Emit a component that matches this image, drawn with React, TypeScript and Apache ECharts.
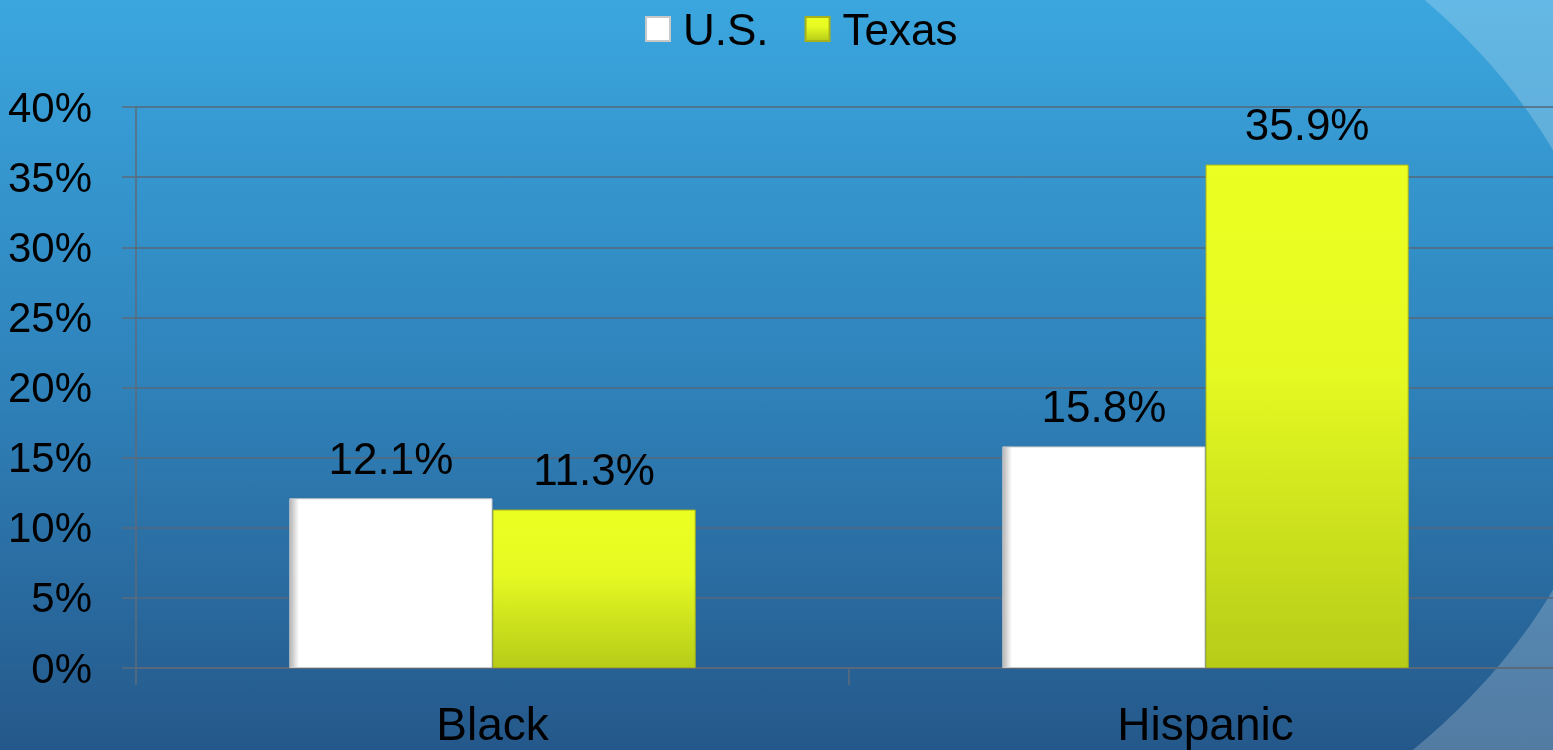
import React, { useEffect, useRef } from "react";
import * as echarts from "echarts";

const categories = ["Black", "Hispanic"];
const usValues = [12.1, 15.8];
const texasValues = [11.3, 35.9];
const seriesNames = ["U.S.", "Texas"];
const yTicks = { min: 0, max: 40, interval: 5 };

const FONT = "'Liberation Sans', Arial, sans-serif";

export default function App() {
  const ref = useRef<HTMLDivElement>(null);
  useEffect(() => {
    document.body.style.margin = "0";
    const chart = echarts.init(ref.current!, undefined, { renderer: "svg" });
    const whiteFill = new echarts.graphic.LinearGradient(0, 0, 1, 0, [
      { offset: 0, color: "#b4b4b4" },
      { offset: 0.045, color: "#ffffff" },
      { offset: 1, color: "#ffffff" },
    ]);
    const yellowFill = new echarts.graphic.LinearGradient(0, 0, 0, 1, [
      { offset: 0, color: "#ecff22" },
      { offset: 0.4, color: "#e6fa22" },
      { offset: 1, color: "#b6cc18" },
    ]);
    const bgStops = [
      { offset: 0, color: "#3ba6de" },
      { offset: 0.5, color: "#2f83bb" },
      { offset: 1, color: "#25588a" },
    ];
    const bgFill = () => new echarts.graphic.LinearGradient(0, 0, 0, 750, bgStops, true);
    const labelStyle = {
      show: true,
      position: "top",
      distance: 18,
      color: "#000",
      fontSize: 44,
      fontFamily: FONT,
      formatter: (p: any) => p.value.toFixed(1) + "%",
    };
    chart.setOption({
      animation: false,
      graphic: [
        {
          type: "rect",
          z: -10,
          silent: true,
          shape: { x: 0, y: 0, width: 1553, height: 750 },
          style: { fill: bgFill() },
        },
        {
          type: "rect",
          z: -9,
          silent: true,
          shape: { x: 0, y: 0, width: 1553, height: 750 },
          style: { fill: "rgba(255,255,255,0.21)" },
        },
        {
          type: "ellipse",
          z: -8,
          silent: true,
          shape: { cx: 700, cy: 370, rx: 915, ry: 606 },
          style: { fill: bgFill() },
        },
      ],
      legend: {
        top: 7,
        left: 645,
        itemWidth: 24,
        itemHeight: 24,
        itemGap: 36,
        icon: "rect",
        data: seriesNames,
        padding: 0,
        textStyle: { fontSize: 44, fontFamily: FONT, color: "#000", padding: [0, 0, 0, 8] },
      },
      grid: { left: 136, right: -9, top: 107, bottom: 82, outerBoundsMode: "none" },
      xAxis: {
        type: "category",
        data: categories,
        axisLine: { show: true, lineStyle: { color: "#5c6b78", width: 1.5 } },
        axisTick: { show: true, length: 17, lineStyle: { color: "#5c6b78", width: 1.5 } },
        axisLabel: { fontSize: 46, fontFamily: FONT, color: "#000", margin: 33 },
      },
      yAxis: {
        type: "value",
        min: yTicks.min,
        max: yTicks.max,
        interval: yTicks.interval,
        axisLine: { show: true, lineStyle: { color: "#5c6b78", width: 1.5 } },
        axisTick: { show: true, length: 14, lineStyle: { color: "#5c6b78", width: 1.5 } },
        splitLine: { show: true, lineStyle: { color: "#56677a", width: 1.5 } },
        axisLabel: {
          formatter: "{value}%",
          fontSize: 42,
          fontFamily: FONT,
          color: "#000",
          margin: 44,
        },
      },
      series: [
        {
          name: seriesNames[0],
          type: "bar",
          data: usValues,
          barGap: "0%",
          barCategoryGap: "43%",
          itemStyle: { color: whiteFill, borderColor: "#c8c8c8", borderWidth: 1 },
          label: labelStyle,
        },
        {
          name: seriesNames[1],
          type: "bar",
          data: texasValues,
          itemStyle: { color: yellowFill, borderColor: "#a6b21a", borderWidth: 1 },
          label: labelStyle,
        },
      ],
    });
    return () => chart.dispose();
  }, []);
  return <div ref={ref} style={{ position: "fixed", left: 0, top: 0, width: 1553, height: 750 }} />;
}
